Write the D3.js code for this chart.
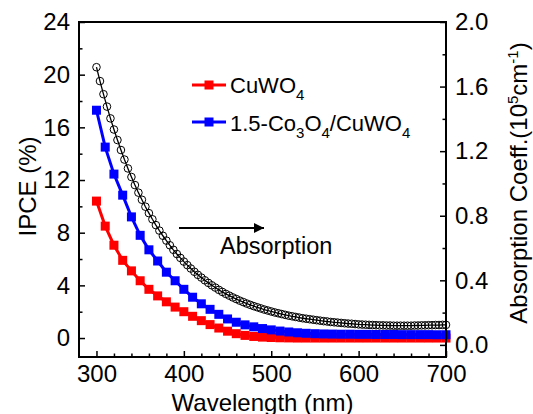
<!DOCTYPE html>
<html>
<head>
<meta charset="utf-8">
<script src="https://cdn.jsdelivr.net/npm/d3@7"></script>
<style>
  body { margin: 0; background: #fff; }
  text { font-family: "Liberation Sans", Arial, sans-serif; fill: #000; }
</style>
</head>
<body>
<script>
const width = 533;
const height = 414;
const margin = {top: 22, right: 87, bottom: 57, left: 79};

// IPCE samples (nm, %)
const ipceWl = [300,310,320,330,340,350,360,370,380,390,400,410,420,430,440,450,460,470,480,490,
    500,510,520,530,540,550,560,570,580,590,600,610,620,630,640,650,660,670,680,690,700];
const cuwo4 = [10.4,8.5,7.05,5.9,5.1,4.35,3.7,3.2,2.75,2.35,2.0,1.65,1.32,1.02,0.76,0.52,0.33,0.2,0.12,0.07,
    0.04,0.02,0.01,0,0,0,0,0,0,0,0,0,0,0,0,0,0,0,0,0,0];
const coCuwo4 = [17.3,14.5,12.45,10.85,9.2,7.8,6.7,5.85,5.0,4.35,3.7,3.1,2.6,2.18,1.8,1.45,1.2,1.0,0.85,0.72,
    0.62,0.53,0.46,0.4,0.36,0.33,0.31,0.3,0.29,0.29,0.28,0.28,0.27,0.27,0.27,0.26,0.26,0.26,0.26,0.25,0.25];

// absorption coefficient (10^5 cm^-1)
const absWl = [300,304,308,312,316,320,324,328,332,336,340,344,348,352,356,360,364,368,372,376,380,384,388,392,396,
    400,404,408,412,416,420,424,428,432,436,440,444,448,452,456,460,464,468,472,476,480,484,488,492,496,
    500,504,508,512,516,520,524,528,532,536,540,544,548,552,556,560,564,568,572,576,580,584,588,592,596,
    600,604,608,612,616,620,624,628,632,636,640,644,648,652,656,660,664,668,672,676,680,684,688,692,696,700];
const absCoef = [1.720,1.634,1.553,1.476,1.403,1.334,1.269,1.207,1.148,1.093,
    1.040,0.990,0.943,0.899,0.856,0.816,0.778,0.742,0.708,0.676,
    0.646,0.617,0.589,0.563,0.539,0.516,0.494,0.473,0.453,0.434,
    0.417,0.400,0.384,0.369,0.355,0.341,0.328,0.316,0.305,0.294,
    0.284,0.274,0.265,0.256,0.248,0.240,0.233,0.226,0.219,0.213,
    0.207,0.201,0.196,0.191,0.186,0.181,0.177,0.173,0.169,0.165,
    0.162,0.159,0.156,0.153,0.150,0.147,0.145,0.142,0.140,0.138,
    0.136,0.134,0.132,0.131,0.129,0.127,
    0.126,0.125,0.124,0.123,0.122,0.121,0.121,0.120,0.120,0.119,
    0.119,0.119,0.119,0.119,0.119,0.120,0.120,0.121,0.121,0.122,
    0.122,0.123,0.123,0.124,0.124];

const xTicks = [300,400,500,600,700];
const xMinor = [320,340,360,380,420,440,460,480,520,540,560,580,620,640,660,680];
const yTicks = [0,4,8,12,16,20,24];
const yMinor = [2,6,10,14,18,22];
const y2Ticks = [0,0.4,0.8,1.2,1.6,2.0];
const y2Minor = [0.2,0.6,1.0,1.4,1.8];

const x0 = margin.left, x1 = width - margin.right;
const y0 = height - margin.bottom, y1 = margin.top;

const x = d3.scaleLinear().domain([280, 700]).range([x0, x1]);
const y = d3.scaleLinear().domain([-1.44, 24]).range([y0, y1]);
const y2 = d3.scaleLinear().domain([-0.075, 2.0]).range([y0, y1]);

const svg = d3.select('body')
    .append('svg')
    .attr('width', width)
    .attr('height', height);

// axes, ticks point inward
function styleAxis(g) {
    g.select('.domain').remove();
    g.selectAll('line').attr('stroke', '#000').attr('stroke-width', 1.5);
    g.selectAll('text').attr('font-size', 24).attr('fill', '#000')
        .attr('font-family', '"Liberation Sans", Arial, sans-serif');
}

svg.append('g').attr('transform', `translate(0,${y0})`)
    .call(d3.axisBottom(x).tickValues(xTicks).tickSize(-6).tickPadding(8))
    .call(styleAxis);
svg.append('g').attr('transform', `translate(0,${y0})`)
    .call(d3.axisBottom(x).tickValues(xMinor).tickSize(-3.5).tickFormat(''))
    .call(styleAxis);

svg.append('g').attr('transform', `translate(${x0},0)`)
    .call(d3.axisLeft(y).tickValues(yTicks).tickSize(-6).tickPadding(9))
    .call(styleAxis);
svg.append('g').attr('transform', `translate(${x0},0)`)
    .call(d3.axisLeft(y).tickValues(yMinor).tickSize(-3.5).tickFormat(''))
    .call(styleAxis);

svg.append('g').attr('transform', `translate(${x1},0)`)
    .call(d3.axisRight(y2).tickValues(y2Ticks).tickSize(-6).tickPadding(9).tickFormat(d3.format('.1f')))
    .call(styleAxis);
svg.append('g').attr('transform', `translate(${x1},0)`)
    .call(d3.axisRight(y2).tickValues(y2Minor).tickSize(-3.5).tickFormat(''))
    .call(styleAxis);

// absorption curve with open circles
const absData = absWl.map((w, i) => ({w: w, v: absCoef[i]}));
svg.append('path')
    .datum(absData)
    .attr('fill', 'none')
    .attr('stroke', '#000')
    .attr('stroke-width', 1.3)
    .attr('d', d3.line().x(d => x(d.w)).y(d => y2(d.v)));
svg.selectAll('circle.abs')
    .data(absData)
    .enter()
    .append('circle')
    .attr('class', 'abs')
    .attr('cx', d => x(d.w))
    .attr('cy', d => y2(d.v))
    .attr('r', 3.8)
    .attr('fill', 'none')
    .attr('stroke', '#000')
    .attr('stroke-width', 1);

// IPCE series
const series = [
    {vals: cuwo4, color: '#ff0000'},
    {vals: coCuwo4, color: '#0000ff'}
];
const ms = 9;
series.forEach(s => {
    const pts = ipceWl.map((w, i) => ({w: w, v: s.vals[i]}));
    svg.append('path')
        .datum(pts)
        .attr('fill', 'none')
        .attr('stroke', s.color)
        .attr('stroke-width', 3)
        .attr('d', d3.line().x(d => x(d.w)).y(d => y(d.v)));
    svg.append('g').selectAll('rect')
        .data(pts)
        .enter()
        .append('rect')
        .attr('x', d => x(d.w) - ms / 2)
        .attr('y', d => y(d.v) - ms / 2)
        .attr('width', ms)
        .attr('height', ms)
        .attr('fill', s.color);
});

// frame
svg.append('rect')
    .attr('x', x0).attr('y', y1)
    .attr('width', x1 - x0).attr('height', y0 - y1)
    .attr('fill', 'none')
    .attr('stroke', '#000')
    .attr('stroke-width', 2);

// legend
const legend = svg.append('g');
[{color: '#ff0000', ly: 85}, {color: '#0000ff', ly: 122}].forEach(l => {
    legend.append('line')
        .attr('x1', 192).attr('x2', 226)
        .attr('y1', l.ly).attr('y2', l.ly)
        .attr('stroke', l.color).attr('stroke-width', 3);
    legend.append('rect')
        .attr('x', 209 - ms / 2).attr('y', l.ly - ms / 2)
        .attr('width', ms).attr('height', ms)
        .attr('fill', l.color);
});
const t1 = legend.append('text').attr('x', 230).attr('y', 93).attr('font-size', 22);
t1.append('tspan').text('CuWO');
t1.append('tspan').attr('dy', 7).attr('font-size', 15).text('4');

const t2 = legend.append('text').attr('x', 230).attr('y', 131).attr('font-size', 22);
t2.append('tspan').text('1.5-Co');
t2.append('tspan').attr('dy', 7).attr('font-size', 15).text('3');
t2.append('tspan').attr('dy', -7).text('O');
t2.append('tspan').attr('dy', 7).attr('font-size', 15).text('4');
t2.append('tspan').attr('dy', -7).text('/CuWO');
t2.append('tspan').attr('dy', 7).attr('font-size', 15).text('4');

// arrow annotation
svg.append('defs').append('marker')
    .attr('id', 'arrowhead')
    .attr('viewBox', '0 0 10 10')
    .attr('refX', 10).attr('refY', 5)
    .attr('markerWidth', 6).attr('markerHeight', 5)
    .attr('markerUnits', 'strokeWidth')
    .attr('orient', 'auto')
    .append('path').attr('d', 'M0,0 L10,5 L0,10 Z').attr('fill', '#000');
svg.append('line')
    .attr('x1', 179).attr('x2', 264)
    .attr('y1', 228).attr('y2', 228)
    .attr('stroke', '#000').attr('stroke-width', 2)
    .attr('marker-end', 'url(#arrowhead)');
svg.append('text')
    .attr('x', 220).attr('y', 254)
    .attr('font-size', 23.5)
    .text('Absorption');

// axis titles
svg.append('text')
    .attr('x', (x0 + x1) / 2).attr('y', 411)
    .attr('text-anchor', 'middle')
    .attr('font-size', 24)
    .text('Wavelength (nm)');

svg.append('text')
    .attr('transform', `translate(36,${(y0 + y1) / 2 - 3}) rotate(-90)`)
    .attr('text-anchor', 'middle')
    .attr('font-size', 24)
    .text('IPCE (%)');

const rt = svg.append('text')
    .attr('transform', `translate(527,183) rotate(-90)`)
    .attr('text-anchor', 'middle')
    .attr('font-size', 24);
rt.append('tspan').text('Absorption Coeff.(10');
rt.append('tspan').attr('dy', -9).attr('font-size', 15).text('5');
rt.append('tspan').attr('dy', 9).text('cm');
rt.append('tspan').attr('dy', -9).attr('font-size', 15).text('-1');
rt.append('tspan').attr('dy', 9).text(')');
</script>
</body>
</html>
